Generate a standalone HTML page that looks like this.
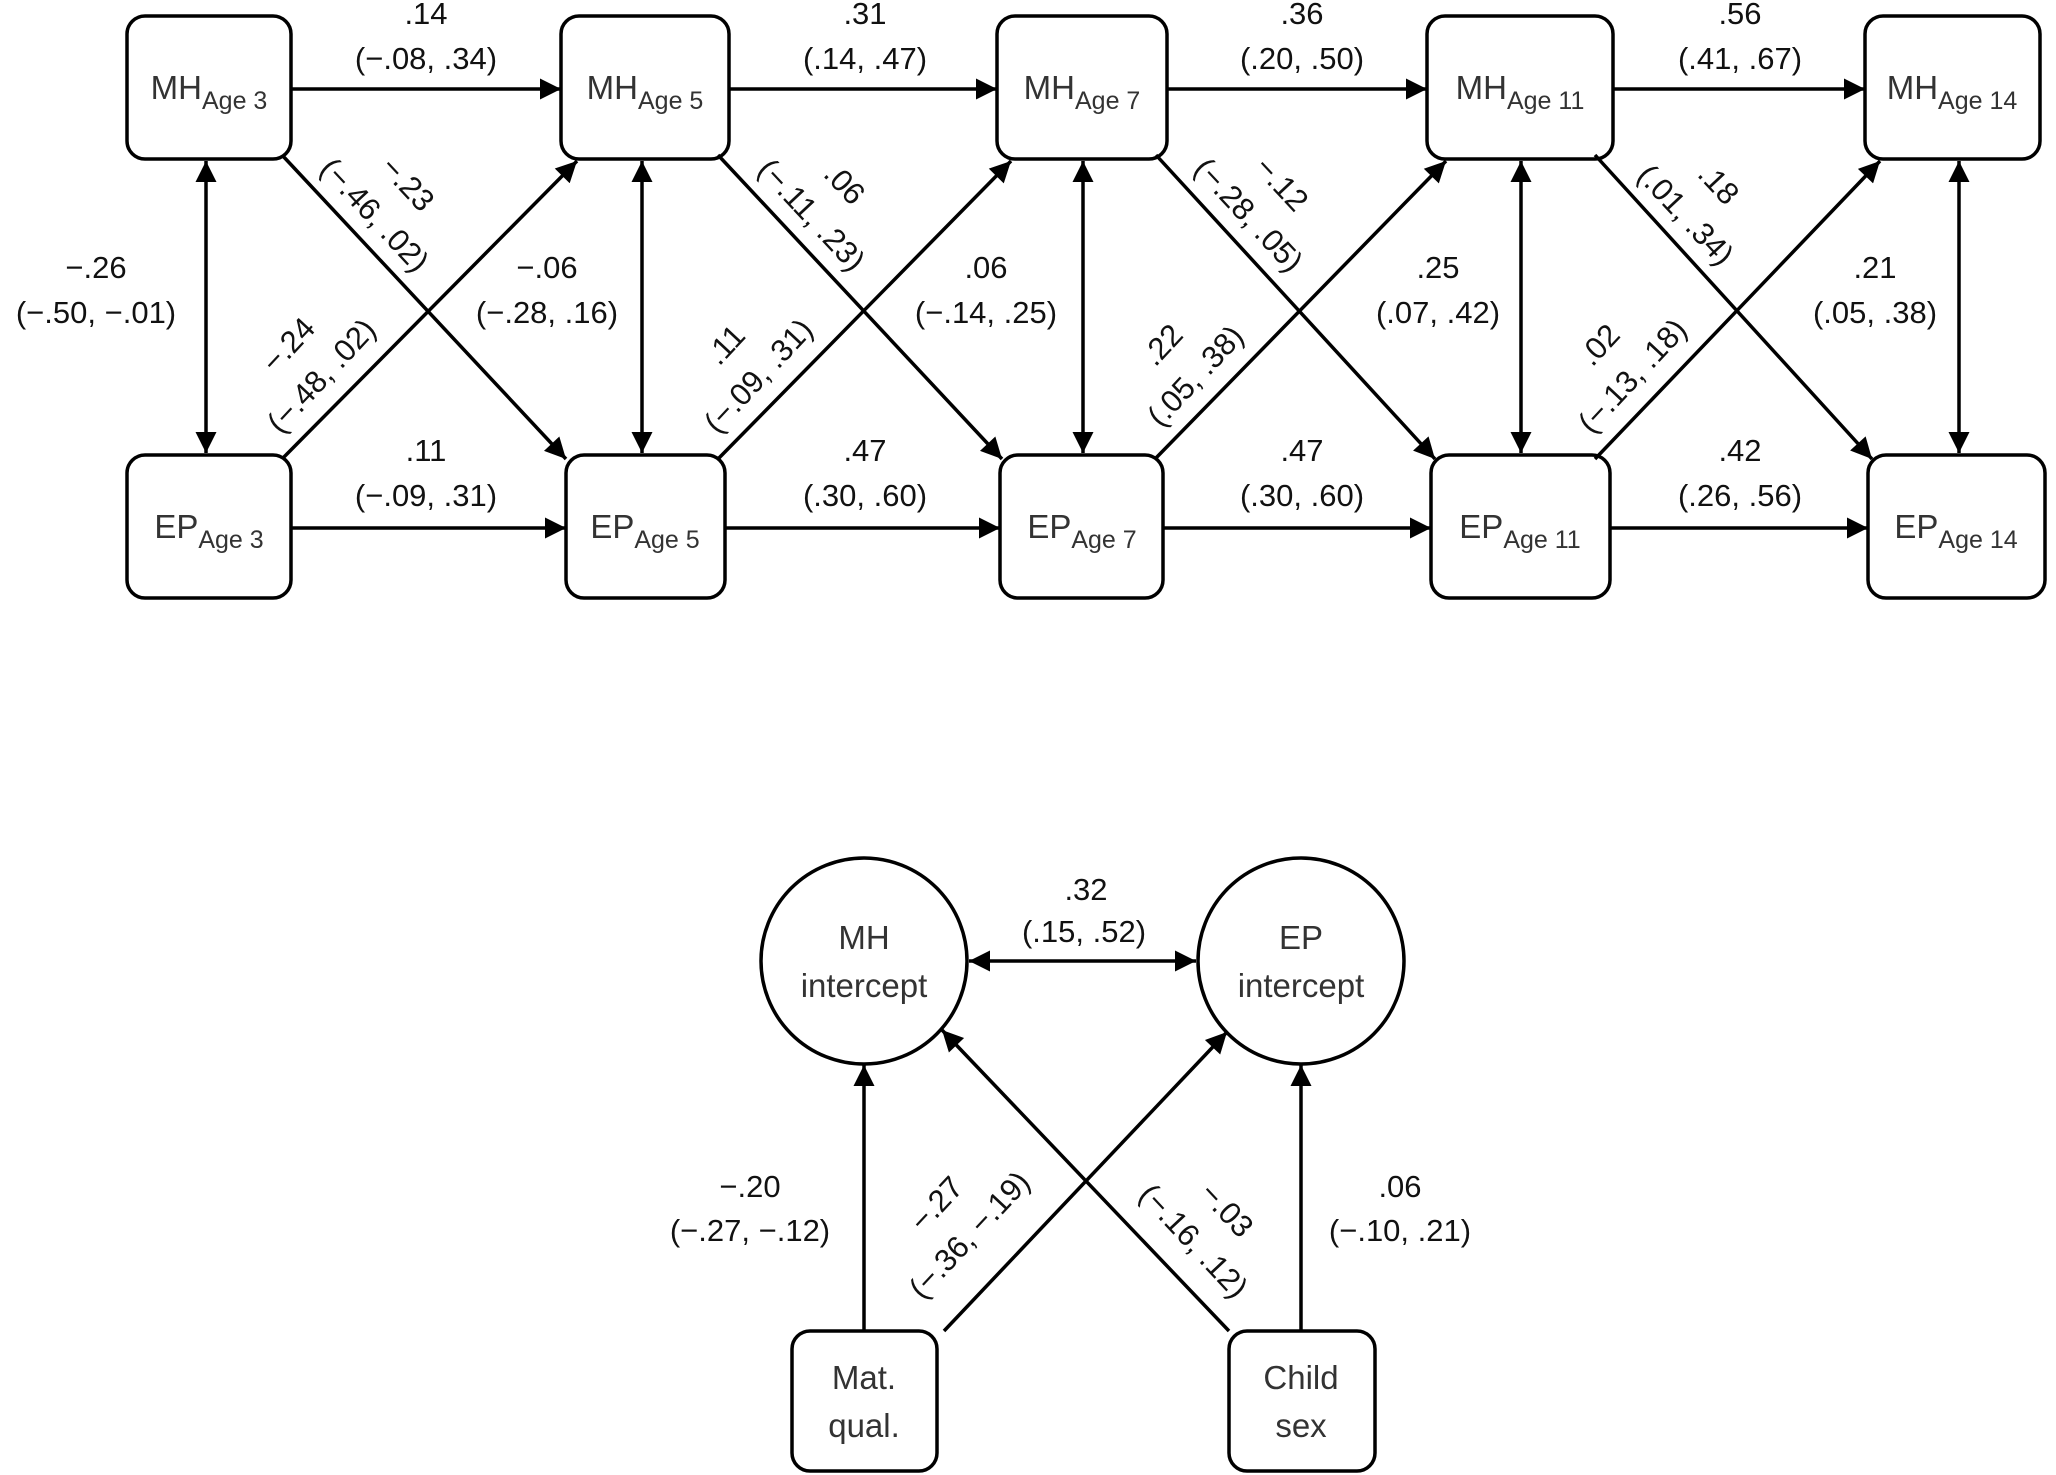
<!DOCTYPE html>
<html><head><meta charset="utf-8"><style>
html,body{margin:0;padding:0;background:#fff}
svg{display:block}
text{font-family:"Liberation Sans","DejaVu Sans",sans-serif;fill:#111}
.e{font-size:31px;text-anchor:middle}
.n{font-size:33px;fill:#333;text-anchor:middle}
.s{font-size:25px}
</style></head><body>
<svg width="2056" height="1475" viewBox="0 0 2056 1475" xmlns="http://www.w3.org/2000/svg">
<defs>
<marker id="a" viewBox="0 0 10 10" refX="10" refY="5" markerWidth="7" markerHeight="6" markerUnits="strokeWidth" orient="auto-start-reverse"><path d="M0,0 L10,5 L0,10 z" fill="#000"/></marker>
</defs>
<g fill="none" stroke="#000" stroke-width="3.5">
<!-- boxes -->
<rect x="127" y="16" width="164" height="143" rx="18"/>
<rect x="561" y="16" width="168" height="143" rx="18"/>
<rect x="997" y="16" width="170" height="143" rx="18"/>
<rect x="1427" y="16" width="186" height="143" rx="18"/>
<rect x="1865" y="16" width="175" height="143" rx="18"/>
<rect x="127" y="455" width="164" height="143" rx="18"/>
<rect x="566" y="455" width="159" height="143" rx="18"/>
<rect x="1000" y="455" width="163" height="143" rx="18"/>
<rect x="1431" y="455" width="179" height="143" rx="18"/>
<rect x="1868" y="455" width="177" height="143" rx="18"/>
<ellipse cx="864" cy="961" rx="103" ry="103"/>
<ellipse cx="1301" cy="961" rx="103" ry="103"/>
<rect x="792" y="1331" width="145" height="140" rx="18"/>
<rect x="1229" y="1331" width="146" height="140" rx="18"/>
</g>
<g stroke="#000" stroke-width="3.5" marker-end="url(#a)">
<line x1="291" y1="89" x2="561" y2="89"/>
<line x1="729" y1="89" x2="997" y2="89"/>
<line x1="1167" y1="89" x2="1427" y2="89"/>
<line x1="1613" y1="89" x2="1865" y2="89"/>
<line x1="291" y1="528" x2="566" y2="528"/>
<line x1="725" y1="528" x2="1000" y2="528"/>
<line x1="1163" y1="528" x2="1431" y2="528"/>
<line x1="1610" y1="528" x2="1868" y2="528"/>
<g marker-start="url(#a)">
<line x1="206" y1="161" x2="206" y2="453"/>
<line x1="642" y1="161" x2="642" y2="453"/>
<line x1="1083" y1="161" x2="1083" y2="453"/>
<line x1="1521" y1="161" x2="1521" y2="453"/>
<line x1="1959" y1="161" x2="1959" y2="453"/>
<line x1="969" y1="961" x2="1196" y2="961"/>
</g>
<line x1="282" y1="155" x2="566" y2="459"/>
<line x1="718" y1="155" x2="1002" y2="459"/>
<line x1="1156" y1="155" x2="1435" y2="459"/>
<line x1="1595" y1="155" x2="1872" y2="459"/>
<line x1="282" y1="459" x2="577" y2="161"/>
<line x1="718" y1="459" x2="1011" y2="161"/>
<line x1="1155" y1="459" x2="1446" y2="161"/>
<line x1="1595" y1="459" x2="1880" y2="161"/>
<line x1="864" y1="1331" x2="864" y2="1065"/>
<line x1="1301" y1="1331" x2="1301" y2="1065"/>
<line x1="944" y1="1331" x2="1227" y2="1032"/>
<line x1="1229" y1="1331" x2="942" y2="1030"/>
</g>
<!-- node labels -->
<text class="n" x="209" y="99">MH<tspan class="s" dy="10">Age 3</tspan></text>
<text class="n" x="645" y="99">MH<tspan class="s" dy="10">Age 5</tspan></text>
<text class="n" x="1082" y="99">MH<tspan class="s" dy="10">Age 7</tspan></text>
<text class="n" x="1520" y="99">MH<tspan class="s" dy="10">Age 11</tspan></text>
<text class="n" x="1952" y="99">MH<tspan class="s" dy="10">Age 14</tspan></text>
<text class="n" x="209" y="538">EP<tspan class="s" dy="10">Age 3</tspan></text>
<text class="n" x="645" y="538">EP<tspan class="s" dy="10">Age 5</tspan></text>
<text class="n" x="1082" y="538">EP<tspan class="s" dy="10">Age 7</tspan></text>
<text class="n" x="1520" y="538">EP<tspan class="s" dy="10">Age 11</tspan></text>
<text class="n" x="1956" y="538">EP<tspan class="s" dy="10">Age 14</tspan></text>
<text class="n" x="864" y="949">MH</text><text class="n" x="864" y="997">intercept</text>
<text class="n" x="1301" y="949">EP</text><text class="n" x="1301" y="997">intercept</text>
<text class="n" x="864" y="1389">Mat.</text><text class="n" x="864" y="1437">qual.</text>
<text class="n" x="1301" y="1389">Child</text><text class="n" x="1301" y="1437">sex</text>
<!-- horizontal edge labels -->
<g class="e">
<text class="e" x="426" y="24">.14</text><text class="e" x="426" y="69">(−.08, .34)</text>
<text class="e" x="865" y="24">.31</text><text class="e" x="865" y="69">(.14, .47)</text>
<text class="e" x="1302" y="24">.36</text><text class="e" x="1302" y="69">(.20, .50)</text>
<text class="e" x="1740" y="24">.56</text><text class="e" x="1740" y="69">(.41, .67)</text>
<text class="e" x="426" y="461">.11</text><text class="e" x="426" y="506">(−.09, .31)</text>
<text class="e" x="865" y="461">.47</text><text class="e" x="865" y="506">(.30, .60)</text>
<text class="e" x="1302" y="461">.47</text><text class="e" x="1302" y="506">(.30, .60)</text>
<text class="e" x="1740" y="461">.42</text><text class="e" x="1740" y="506">(.26, .56)</text>
<text class="e" x="96" y="278">−.26</text><text class="e" x="96" y="323">(−.50, −.01)</text>
<text class="e" x="547" y="278">−.06</text><text class="e" x="547" y="323">(−.28, .16)</text>
<text class="e" x="986" y="278">.06</text><text class="e" x="986" y="323">(−.14, .25)</text>
<text class="e" x="1438" y="278">.25</text><text class="e" x="1438" y="323">(.07, .42)</text>
<text class="e" x="1875" y="278">.21</text><text class="e" x="1875" y="323">(.05, .38)</text>
<text class="e" x="1086" y="900">.32</text><text class="e" x="1084" y="942">(.15, .52)</text>
<text class="e" x="750" y="1197">−.20</text><text class="e" x="750" y="1241">(−.27, −.12)</text>
<text class="e" x="1400" y="1197">.06</text><text class="e" x="1400" y="1241">(−.10, .21)</text>
</g>
<!-- diagonal labels -->
<g>
<text class="e" transform="translate(400,191) rotate(47)">−.23</text>
<text class="e" transform="translate(367,222) rotate(47)">(−.46, .02)</text>
<text class="e" transform="translate(837,191) rotate(47)">.06</text>
<text class="e" transform="translate(804,222) rotate(47)">(−.11, .23)</text>
<text class="e" transform="translate(1274,191) rotate(47)">−.12</text>
<text class="e" transform="translate(1241,222) rotate(47)">(−.28, .05)</text>
<text class="e" transform="translate(1711,191) rotate(47)">.18</text>
<text class="e" transform="translate(1678,222) rotate(47)">(.01, .34)</text>
<text class="e" transform="translate(296,352) rotate(-47)">−.24</text>
<text class="e" transform="translate(329,383) rotate(-47)">(−.48, .02)</text>
<text class="e" transform="translate(733,352) rotate(-47)">.11</text>
<text class="e" transform="translate(766,383) rotate(-47)">(−.09, .31)</text>
<text class="e" transform="translate(1170,352) rotate(-47)">.22</text>
<text class="e" transform="translate(1203,383) rotate(-47)">(.05, .38)</text>
<text class="e" transform="translate(1607,352) rotate(-47)">.02</text>
<text class="e" transform="translate(1640,383) rotate(-47)">(−.13, .18)</text>
<text class="e" transform="translate(944,1211) rotate(-47)">−.27</text>
<text class="e" transform="translate(977,1242) rotate(-47)">(−.36, −.19)</text>
<text class="e" transform="translate(1219,1217) rotate(47)">−.03</text>
<text class="e" transform="translate(1186,1248) rotate(47)">(−.16, .12)</text>
</g>
</svg>
</body></html>
